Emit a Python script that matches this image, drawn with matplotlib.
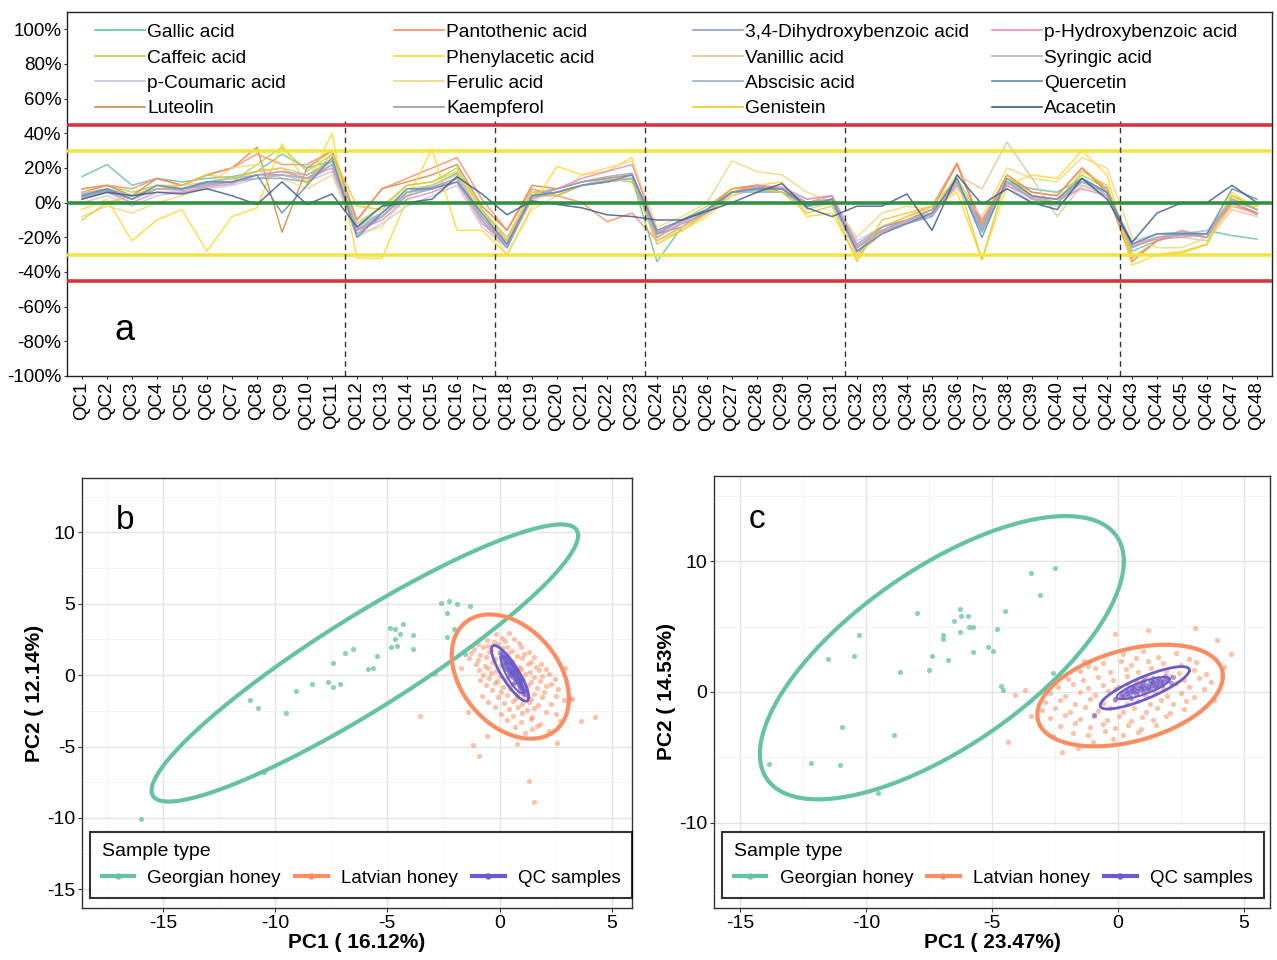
import matplotlib
matplotlib.use('Agg')
import matplotlib.pyplot as plt
from matplotlib.lines import Line2D
from matplotlib.legend import Legend
from matplotlib.ticker import MultipleLocator
import numpy as np

plt.rcParams['font.family'] = ['Liberation Sans', 'DejaVu Sans']
plt.rcParams['axes.unicode_minus'] = False

# ---------------- panel a: relative deviation of QC injections ----------------
qc_labels = [f'QC{i}' for i in range(1, 49)]
batch_breaks = [11.5, 17.5, 23.5, 31.5, 42.5]
limit_lines = [(45, '#D22B35'), (-45, '#D22B35'), (30, '#F2E339'), (-30, '#F2E339'), (0, '#2A8A3A')]

compounds = ['Gallic acid', 'Caffeic acid', 'p-Coumaric acid', 'Luteolin',
             'Pantothenic acid', 'Phenylacetic acid', 'Ferulic acid', 'Kaempferol',
             '3,4-Dihydroxybenzoic acid', 'Vanillic acid', 'Abscisic acid', 'Genistein',
             'p-Hydroxybenzoic acid', 'Syringic acid', 'Quercetin', 'Acacetin']
compound_colors = ['#66C2A5', '#A6D854', '#C9C4DE', '#D08B45',
                   '#FC8D62', '#FFD92F', '#F2D77E', '#9A9AB8',
                   '#8DA0CB', '#E5C494', '#9BB0CC', '#E6CC2E',
                   '#E78AC3', '#B3B3B3', '#5B8DB8', '#3B5E8C']

gallic_acid = [15, 22, 10, 14, 12, 14, 15, 18, 28, 20, 24, -16, -6, 6, 10, 17, -8, -24, 4, 6, 10, 13, 14, -34,
               -14, -6, 6, 7, 6, -2, 0, -28, -18, -12, -8, 12, -17, 12, 8, 6, 14, 4, -28, -22, -18, -16, -19, -21]
caffeic_acid = [8, 10, 6, 10, 8, 12, 12, 22, 32, 18, 28, -12, -2, 10, 12, 20, -4, -20, 6, 8, 12, 14, 12, -18,
                -10, -2, 8, 10, 6, -2, 0, -26, -16, -12, -6, 14, -10, 16, 4, 2, 16, 8, -26, -20, -18, -18, 4, -4]
p_coumaric_acid = [0, 4, -2, 4, 6, 8, 10, 14, 16, 12, 18, -20, -12, -2, 4, 10, -14, -26, 2, 6, 10, 14, 16, -18,
                   -12, -6, 4, 8, 8, 2, 4, -22, -14, -10, -6, 10, -12, 10, 0, -2, 10, 6, -22, -18, -18, -16, 0, -6]
luteolin = [6, 10, 4, 14, 10, 16, 20, 32, -17, 20, 30, -10, 8, 12, 16, 22, -2, -16, 10, 8, 12, 14, 16, -18,
            -14, -4, 8, 10, 6, 0, 2, -30, -14, -10, -4, 22, -14, 16, 6, 4, 20, 6, -34, -22, -18, -20, 0, -6]
pantothenic_acid = [8, 10, 8, 14, 10, 16, 20, 28, 22, 22, 30, -10, 8, 14, 20, 26, 2, -16, 8, 4, 0, -11, -6, -22,
                    -14, -4, 8, 10, 8, 0, 4, -26, -14, -8, -2, 23, -12, 16, 6, 4, 20, 8, -32, -22, -16, -20, -2, -6]
phenylacetic_acid = [-4, 2, -22, -10, -4, -28, -8, -3, 34, 10, 40, -32, -32, 2, 31, -16, -16, -30, -2, 21, 16, 18, 26, -22,
                     -16, -8, 4, 10, 12, -8, -6, -32, -14, -8, -4, 6, -33, 10, 16, 14, 30, 16, -36, -30, -28, -24, 6, -4]
ferulic_acid = [-8, -2, -6, 0, 4, 10, 20, 22, 14, 8, 16, -18, -14, 6, 8, 12, -10, -30, -4, 4, 16, 20, 24, -14,
                -8, 0, 24, 18, 16, 6, 0, -20, -6, -2, -4, 8, -8, 20, 14, 12, 26, 20, -20, -26, -26, -20, -2, -2]
kaempferol = [3, 7, 2, 8, 8, 10, 12, 16, 16, 14, 24, -16, -8, 4, 8, 14, -8, -26, 4, 6, 10, 12, 14, -18,
              -10, -4, 6, 8, 8, -2, 2, -26, -16, -10, -6, 12, -16, 12, 2, 0, 12, 6, -24, -18, -18, -18, 2, -4]
dihydroxybenzoic_acid = [4, 7, 2, 8, 8, 11, 12, 14, 14, 12, 22, -18, -8, 6, 9, 14, -10, -26, 4, 8, 12, 15, 17, -18,
                         -10, -4, 6, 9, 8, 0, 2, -24, -14, -10, -4, 12, -14, 12, 2, 0, 12, 6, -24, -18, -17, -18, 2, -4]
vanillic_acid = [6, 8, 4, 10, 10, 12, 14, 18, 20, 16, 24, -12, -6, 8, 10, 16, -6, -20, 6, 4, 10, 12, 14, -22,
                 -14, -6, 6, 8, 6, -4, 0, -30, -18, -10, -6, 16, 8, 35, 14, -8, 10, 4, -24, -18, -20, -22, -4, -8]
abscisic_acid = [5, 8, 4, 8, 8, 12, 14, 16, 18, 16, 24, -14, -6, 6, 8, 14, -8, -22, 4, 4, 10, 12, 14, -20,
                 -12, -6, 6, 6, 6, -2, 0, -28, -16, -12, -8, 12, -16, 12, 4, 0, 14, 6, -26, -20, -18, -20, 2, -4]
genistein = [-10, 0, 4, 8, 10, 16, 14, 18, 20, 12, 28, -2, -4, 10, 12, 18, -4, -22, 6, 4, 10, 12, 14, -24,
             -16, -6, 8, 8, 6, -6, -2, -34, -10, -6, -2, 14, -33, 16, 2, 0, 18, 10, -30, -30, -29, -24, 4, -2]
p_hydroxybenzoic_acid = [2, 6, 0, 6, 6, 9, 11, 16, 18, 14, 20, -16, -10, 2, 6, 12, -12, -24, 2, 8, 14, 18, 22, -17,
                         -11, -4, 6, 10, 9, 2, 4, -25, -17, -11, -7, 10, -10, 10, 3, 2, 8, 4, -25, -21, -20, -18, 0, -7]
syringic_acid = [3, 6, 2, 8, 7, 10, 12, 14, 16, 14, 22, -15, -8, 4, 8, 14, -8, -24, 3, 6, 10, 12, 14, -20,
                 -12, -6, 6, 8, 8, 0, 2, -26, -16, -10, -6, 12, -14, 12, 2, 0, 12, 6, -24, -20, -19, -18, 2, -4]
quercetin = [4, 8, 2, 10, 8, 12, 12, 16, -6, 10, 26, -20, -6, 8, 8, 12, -6, -24, 4, 6, 10, 12, 16, -16,
             -10, -4, 6, 8, 8, -2, 2, -28, -18, -12, -6, 14, -20, 14, 4, 2, 14, 6, -24, -18, -18, -18, 8, 2]
acacetin = [2, 6, 4, 6, 5, 8, 4, -1, 12, -1, 5, -14, -2, 0, 2, 15, 5, -7, 1, -1, -3, -7, -8, -10,
            -10, -5, 0, 6, 11, -3, -8, -2, -2, 5, -16, 16, -1, 8, 0, -4, 14, 2, -23, -6, 0, 0, 10, 0]

compound_series = [gallic_acid, caffeic_acid, p_coumaric_acid, luteolin,
                   pantothenic_acid, phenylacetic_acid, ferulic_acid, kaempferol,
                   dihydroxybenzoic_acid, vanillic_acid, abscisic_acid, genistein,
                   p_hydroxybenzoic_acid, syringic_acid, quercetin, acacetin]

# ---------------- panels b and c: PCA scores ----------------
group_names = ['Georgian honey', 'Latvian honey', 'QC samples']
group_colors = ['#66C2A5', '#FC8D62', '#6A5ACD']

georgian_b = [(-2.6, 5.07), (-2.27, 5.19), (-1.9, 4.95), (-1.33, 4.84), (-2.36, 4.32), (-2.04, 3.2),
              (-2.33, 2.66), (-1.56, 1.45), (-4.9, 3.3), (-4.67, 3.25), (-4.3, 3.55), (-4.45, 2.85),
              (-4.64, 2.5), (-4.85, 1.96), (-4.55, 2.03), (-3.87, 2.78), (-3.87, 1.8), (-5.45, 1.33),
              (-5.64, 0.51), (-5.85, 0.4), (-6.55, 1.8), (-6.9, 1.54), (-7.4, 0.82), (-7.64, -0.47),
              (-7.4, -0.84), (-7.1, -0.6), (-8.36, -0.6), (-9.05, -1.12), (-11.1, -1.75), (-10.76, -2.29),
              (-9.5, -2.64), (-10.5, -6.78), (-15.95, -10.07)]

latvian_b = [(-0.15, 2.85), (0.1, 2.6), (0.4, 2.95), (-0.55, 2.45), (-0.25, 2.3), (0.25, 2.4), (0.65, 2.55),
             (-0.95, 2.15), (-0.5, 2.05), (-0.05, 2.2), (0.35, 2.0), (0.85, 2.25),
             (-1.15, 1.85), (-0.75, 1.95), (-0.4, 1.75), (0.12, 1.9), (0.55, 1.7), (0.95, 1.95), (1.3, 1.6),
             (-1.25, 1.55), (-0.85, 1.4), (-0.45, 1.6), (0.0, 1.45), (0.38, 1.55), (0.78, 1.35), (1.1, 1.5), (1.55, 1.25),
             (-1.35, 1.2), (-0.98, 1.05), (-0.6, 1.3), (-0.2, 1.1), (0.22, 1.25), (0.62, 1.0), (1.02, 1.2), (1.42, 0.95), (1.85, 0.8),
             (-1.05, 0.8), (-0.65, 0.65), (-0.32, 0.9), (0.08, 0.7), (0.46, 0.85), (0.88, 0.6), (1.25, 0.75), (1.62, 0.55), (2.05, 0.45),
             (-0.92, 0.35), (-0.52, 0.5), (-0.18, 0.3), (0.25, 0.45), (0.6, 0.25), (0.95, 0.4), (1.35, 0.2), (1.75, 0.35), (2.2, 0.05),
             (-0.75, 0.0), (-0.38, 0.12), (0.02, -0.05), (0.4, 0.1), (0.8, -0.1), (1.15, 0.05), (1.52, -0.15), (1.9, -0.05), (2.45, -0.3),
             (-0.88, -0.35), (-0.48, -0.22), (-0.12, -0.4), (0.28, -0.25), (0.68, -0.45), (1.05, -0.3), (1.4, -0.5), (1.8, -0.38), (2.28, -0.6),
             (-0.62, -0.7), (-0.22, -0.58), (0.15, -0.8), (0.52, -0.62), (0.92, -0.85), (1.28, -0.7), (1.65, -0.9), (2.05, -0.75), (2.6, -1.0),
             (-0.35, -1.05), (0.05, -1.2), (0.45, -1.0), (0.82, -1.25), (1.18, -1.08), (1.55, -1.3), (2.0, -1.15), (2.5, -1.45),
             (-0.78, -1.45), (-0.05, -1.55), (0.35, -1.4), (0.72, -1.62), (1.08, -1.48), (1.42, -1.7), (1.88, -1.55), (2.85, -1.75),
             (-0.5, -1.85), (0.18, -1.95), (0.58, -1.8), (0.98, -2.05), (1.32, -1.9), (1.72, -2.1), (2.3, -2.0), (3.15, -1.6),
             (-0.22, -2.25), (0.42, -2.4), (0.82, -2.2), (1.22, -2.45), (1.55, -2.3), (2.05, -2.55),
             (0.08, -2.75), (0.62, -2.85), (1.02, -2.65), (1.45, -2.9), (2.5, -2.7),
             (0.35, -3.15), (0.95, -3.3), (1.38, -3.1), (1.82, -3.4),
             (0.7, -3.6), (1.45, -3.75), (1.15, -4.05), (2.2, -3.9),
             (-3.55, -2.87), (3.64, -3.18), (4.24, -2.94), (3.24, -1.7), (2.55, -4.74), (1.29, -7.43),
             (1.55, -8.88), (-1.18, -4.86), (-0.9, -5.68), (-0.58, -4.23), (0.78, -4.81), (1.69, -3.57),
             (-2.89, 0.09), (-1.7, 0.5), (-1.4, -2.6), (2.9, 0.5), (2.7, -3.2)]

qc_b = [(0.02, 1.65), (0.1, 1.5), (0.05, 1.3), (0.18, 1.35), (0.12, 1.1), (0.25, 1.2), (0.2, 0.95), (0.3, 1.0),
        (0.28, 0.75), (0.38, 0.85), (0.35, 0.6), (0.45, 0.65), (0.4, 0.45), (0.52, 0.5), (0.48, 0.3), (0.58, 0.35),
        (0.55, 0.15), (0.62, 0.2), (0.5, 0.05), (0.65, 0.0), (0.6, -0.1), (0.7, -0.05), (0.68, -0.25), (0.78, -0.2),
        (0.72, -0.4), (0.82, -0.38), (0.8, -0.55), (0.9, -0.5), (0.85, -0.7), (0.95, -0.72), (0.92, -0.9), (1.0, -0.85),
        (0.98, -1.05), (1.08, -1.1), (1.05, -1.25), (1.12, -1.35), (0.42, 0.2), (0.7, 0.4), (0.35, 0.9), (0.88, -0.2),
        (0.6, -0.6), (0.3, 0.4), (0.75, 0.1), (0.45, -0.05), (1.15, -0.95), (0.15, 0.7), (0.55, 0.75), (0.95, -0.35)]

georgian_c = [(-3.45, 9.12), (-2.52, 9.45), (-3.09, 7.42), (-6.28, 6.33), (-6.23, 5.77), (-5.95, 5.77),
              (-5.92, 5.0), (-5.76, 4.95), (-6.52, 5.46), (-6.28, 4.55), (-6.93, 4.37), (-6.93, 4.07),
              (-7.98, 6.07), (-4.5, 6.15), (-4.82, 4.8), (-5.15, 3.4), (-4.95, 3.1), (-5.76, 3.02),
              (-6.76, 2.47), (-7.38, 2.77), (-7.48, 1.65), (-8.66, 1.52), (-10.29, 4.32), (-10.47, 2.77),
              (-11.49, 2.52), (-4.66, 0.43), (-4.55, 0.13), (-2.59, 1.45), (-10.97, -2.67), (-8.9, -3.25),
              (-13.85, -5.49), (-12.18, -5.41), (-11.04, -5.57), (-9.51, -7.7)]

latvian_c = [(0.2, 2.9), (1.0, 3.1), (1.6, 2.7), (2.3, 3.0), (0.7, 2.6), (2.8, 2.5),
             (-0.6, 2.2), (0.1, 2.4), (0.5, 2.1), (1.2, 2.35), (1.8, 2.2), (2.5, 2.05), (3.1, 2.3), (-1.2, 2.0),
             (-1.5, 1.6), (-0.9, 1.8), (-0.3, 1.5), (0.3, 1.75), (0.8, 1.55), (1.3, 1.85), (1.9, 1.6), (2.4, 1.45), (3.0, 1.7), (3.5, 1.4),
             (-2.0, 1.0), (-1.4, 0.9), (-0.8, 1.15), (-0.2, 0.95), (0.35, 1.2), (0.75, 0.85), (1.15, 1.1), (1.6, 0.9),
             (2.05, 1.25), (2.6, 0.95), (3.2, 1.05), (3.7, 0.8),
             (-2.4, 0.4), (-1.8, 0.6), (-1.2, 0.3), (-0.6, 0.55), (-0.1, 0.25), (0.4, 0.6), (0.9, 0.35), (1.35, 0.55),
             (1.8, 0.3), (2.3, 0.65), (2.8, 0.4), (3.4, 0.2),
             (-2.7, -0.1), (-2.1, -0.3), (-1.5, 0.0), (-0.9, -0.25), (-0.4, 0.05), (0.1, -0.2), (0.55, 0.1), (1.0, -0.15),
             (1.45, 0.0), (1.95, -0.3), (2.5, -0.05), (3.0, -0.35),
             (-2.9, -0.8), (-2.3, -0.6), (-1.7, -0.9), (-1.1, -0.55), (-0.6, -0.85), (-0.1, -0.6), (0.35, -0.95), (0.8, -0.65),
             (1.25, -0.9), (1.7, -0.6), (2.2, -0.95), (2.7, -0.7),
             (-3.0, -1.4), (-2.5, -1.2), (-1.9, -1.5), (-1.3, -1.15), (-0.8, -1.45), (-0.3, -1.2), (0.2, -1.55), (0.65, -1.25),
             (1.1, -1.5), (1.55, -1.2), (2.05, -1.6), (2.6, -1.3),
             (-2.7, -2.0), (-2.1, -1.75), (-1.5, -2.1), (-0.95, -1.8), (-0.45, -2.15), (0.05, -1.85), (0.5, -2.2), (0.95, -1.9),
             (1.4, -2.15), (1.9, -1.8),
             (-2.3, -2.6), (-1.7, -2.4), (-1.1, -2.7), (-0.6, -2.45), (-0.1, -2.75), (0.4, -2.5), (0.9, -2.8), (1.5, -2.55),
             (-1.8, -3.1), (-1.2, -3.3), (-0.5, -3.0), (0.2, -3.25), (0.8, -3.05), (-1.0, -3.8), (-0.2, -3.6),
             (0.6, 0.3), (1.0, 0.6), (1.4, 0.8), (0.2, -0.4), (0.8, 0.0), (1.2, 0.3), (1.6, 0.5), (0.4, -0.3),
             (1.1, -0.3), (0.7, 0.7), (1.8, 0.9), (0.0, 0.4),
             (3.07, 4.88), (3.92, 3.99), (4.48, 2.92), (1.17, 4.7), (-0.13, 4.45), (-1.34, 2.34), (-4.1, -0.2),
             (-3.69, 0.13), (-4.37, -3.84), (-3.45, -1.8), (-2.23, -4.6), (-1.59, -4.27), (-2.56, -3.33),
             (4.2, 1.9), (3.8, -0.6)]

qc_c = [(0.1, -0.4), (0.25, -0.3), (0.35, -0.1), (0.45, -0.2), (0.5, 0.05), (0.6, 0.0), (0.65, 0.2), (0.75, 0.1),
        (0.8, 0.3), (0.9, 0.2), (0.95, 0.45), (1.05, 0.3), (1.1, 0.55), (1.2, 0.4), (1.25, 0.65), (1.35, 0.5),
        (1.4, 0.75), (1.5, 0.6), (1.55, 0.85), (1.65, 0.7), (1.7, 0.95), (1.8, 0.8), (1.9, 1.0), (2.0, 0.9),
        (0.3, 0.1), (0.55, 0.35), (0.85, 0.55), (1.15, 0.15), (1.45, 0.35), (1.75, 0.55), (0.7, -0.15), (1.0, 0.05),
        (1.3, 0.85), (1.6, 1.05), (0.4, 0.25), (-0.1, -0.5), (2.2, 1.15), (1.85, 1.2), (0.95, 0.75), (1.25, 0.25),
        (0.15, -0.1), (1.55, 0.4), (0.65, 0.45), (1.05, 0.9), (1.4, 1.1), (-0.94, -1.73), (2.1, 0.7), (0.5, -0.45)]

# confidence ellipses: centre x, centre y, half-range x, half-range y, correlation
ellipses_b = [(-6.0, 0.85, 9.5, 9.7, 0.92), (0.48, -0.1, 2.61, 4.35, -0.35), (0.47, 0.13, 0.83, 1.95, -0.85)]
inner_qc_b = (0.55, 0.05, 0.5, 1.3, -0.85)
ellipses_c = [(-6.99, 2.62, 7.22, 10.82, 0.68), (0.48, -0.27, 3.68, 3.88, 0.38), (1.06, 0.32, 1.77, 1.62, 0.83)]
inner_qc_c = (1.0, 0.3, 1.05, 0.85, 0.8)


def ellipse_xy(cx, cy, sx, sy, rho, n=240):
    t = np.linspace(0, 2 * np.pi, n)
    return cx + sx * np.cos(t), cy + sy * (rho * np.cos(t) + np.sqrt(1 - rho ** 2) * np.sin(t))


fig = plt.figure(figsize=(12.77, 9.6), dpi=100)

# ---- panel a ----
ax = fig.add_axes([67 / 1277, 1 - 376 / 960, 1205 / 1277, 364 / 960])
x = np.arange(1, 49)
for vals, col in zip(compound_series, compound_colors):
    ax.plot(x, vals, color=col, lw=1.1, alpha=0.85, zorder=2)
for yv, col in limit_lines:
    ax.axhline(yv, color=col, lw=2.6, alpha=0.95, zorder=3)
# batch separators stop just above the upper limit line, under the legend
ax.vlines(batch_breaks, -100, 47, color='#333333', lw=1.0, linestyles=[(0, (4, 3))], zorder=4)
ax.set_xlim(0.4, 48.6)
ax.set_ylim(-100, 110)
ax.set_yticks(np.arange(-100, 101, 20))
ax.set_yticklabels([f'{v}%' for v in range(-100, 101, 20)], fontsize=13.5)
ax.set_xticks(x)
ax.set_xticklabels(qc_labels, rotation=90, fontsize=13.5)
ax.tick_params(length=2.5, pad=1.5, color='#333333')
for sp in ax.spines.values():
    sp.set_color('#222222')
    sp.set_linewidth(1.0)
ax.text(0.048, 0.125, 'a', transform=ax.transAxes, fontsize=26, ha='center', va='center')

col_x = [0.0232, 0.2714, 0.5195, 0.7676]
for c in range(4):
    handles = [Line2D([], [], color=compound_colors[4 * c + r], lw=1.2) for r in range(4)]
    leg = Legend(ax, handles, compounds[4 * c:4 * c + 4], loc='upper left', bbox_to_anchor=(col_x[c], 0.968),
                 frameon=False, fontsize=13.8, handlelength=2.6, handletextpad=0.12,
                 labelspacing=0.42, borderpad=0, borderaxespad=0)
    ax.add_artist(leg)


# ---- panels b and c ----
def pca_panel(rect, georgian, latvian, qc, ellipses, inner_qc, xlim, ylim, ymajor, xlab, ylab, letter):
    axp = fig.add_axes(rect)
    axp.set_axisbelow(True)
    for pts, col, a in zip([georgian, latvian, qc], group_colors, [0.75, 0.55, 0.6]):
        px, py = zip(*pts)
        axp.scatter(px, py, s=14, color=col, alpha=a, lw=0, zorder=2)
    for (cx, cy, sx, sy, rho), col in zip(ellipses, group_colors):
        ex, ey = ellipse_xy(cx, cy, sx, sy, rho)
        axp.plot(ex, ey, color=col, lw=3.0 if col != group_colors[2] else 2.0, zorder=3)
    ex, ey = ellipse_xy(*inner_qc)
    axp.plot(ex, ey, color=group_colors[2], lw=1.4, zorder=3)
    axp.set_xlim(*xlim)
    axp.set_ylim(*ylim)
    axp.xaxis.set_major_locator(MultipleLocator(5))
    axp.xaxis.set_minor_locator(MultipleLocator(2.5))
    axp.yaxis.set_major_locator(MultipleLocator(ymajor))
    axp.yaxis.set_minor_locator(MultipleLocator(ymajor / 2))
    axp.grid(which='major', color='#E4E4E4', lw=1.0)
    axp.grid(which='minor', color='#F2F2F2', lw=0.6)
    axp.tick_params(which='major', length=3, pad=2, color='#333333', labelsize=14)
    axp.tick_params(which='minor', length=0)
    for sp in axp.spines.values():
        sp.set_color('#333333')
        sp.set_linewidth(1.0)
    axp.set_xlabel(xlab, fontsize=15, fontweight='bold', labelpad=1)
    axp.set_ylabel(ylab, fontsize=15, fontweight='bold', labelpad=2)
    axp.text(0.078, 0.9, letter, transform=axp.transAxes, fontsize=24, ha='center', va='center')
    handles = [Line2D([], [], color=c, lw=3, marker='o', ms=3.5) for c in group_colors]
    leg = axp.legend(handles, group_names, title='Sample type', ncol=3, loc='lower left',
                     bbox_to_anchor=(0.015, 0.023), borderaxespad=0, frameon=True, fancybox=False,
                     edgecolor='black', fontsize=13.5, title_fontsize=14, alignment='left',
                     handlelength=1.75, columnspacing=0.75, handletextpad=0.7, borderpad=0.6)
    leg.get_frame().set_linewidth(1.5)
    return axp


pca_panel([82 / 1277, 1 - 908 / 960, 550 / 1277, 430 / 960], georgian_b, latvian_b, qc_b,
          ellipses_b, inner_qc_b, (-18.6, 5.9), (-16.3, 13.8), 5, 'PC1 ( 16.12%)', 'PC2 ( 12.14%)', 'b')
pca_panel([714 / 1277, 1 - 908 / 960, 556 / 1277, 432 / 960], georgian_c, latvian_c, qc_c,
          ellipses_c, inner_qc_c, (-16.03, 6.03), (-16.5, 16.5), 10, 'PC1 ( 23.47%)', 'PC2 ( 14.53%)', 'c')

fig.savefig('out.png', dpi=100)
